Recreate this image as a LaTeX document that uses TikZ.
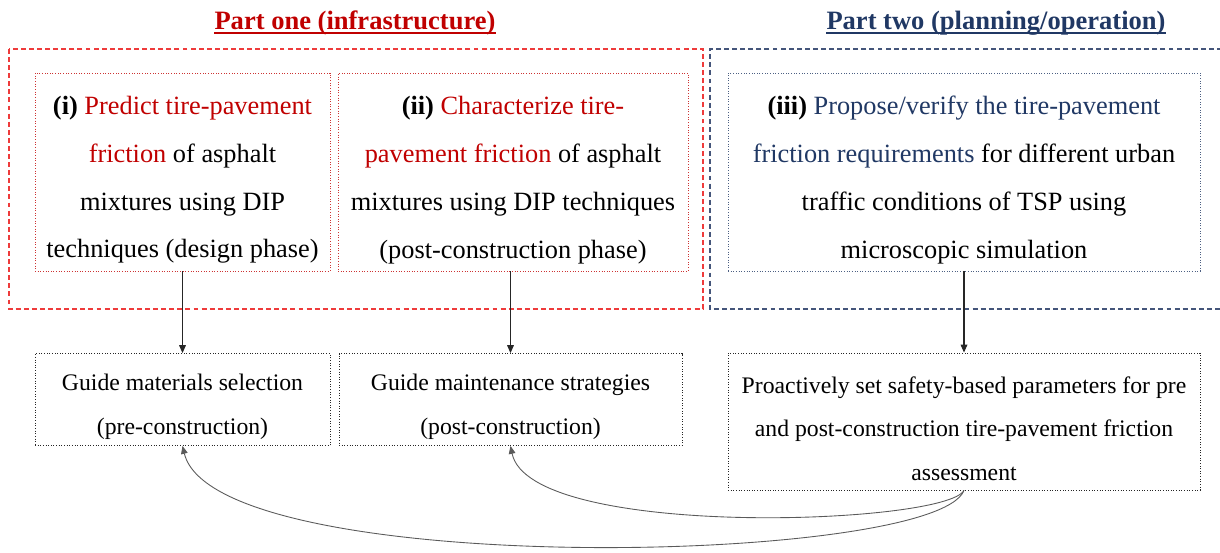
\documentclass[tikz,border=0pt]{standalone}
\usepackage{fontspec}
\setmainfont{Liberation Serif}
\usepackage{xcolor}
\usetikzlibrary{arrows.meta}
\definecolor{partOneColor}{HTML}{C00000}
\definecolor{partTwoColor}{HTML}{203864}
\definecolor{frameOneColor}{HTML}{EE3B3B}
\definecolor{frameTwoColor}{HTML}{44557A}
\definecolor{linkColor}{HTML}{5A5A5A}
% pushes the text of a box a little below its middle
\newcommand{\boxlift}{\rule{0pt}{1.3em}}

\tikzset{
  taskbox/.style={draw, densely dotted, line width=0.5pt, align=center, inner sep=0pt,
    font=\fontsize{15}{27.2}\selectfont},
  guidebox/.style={draw=black!85, densely dotted, line width=0.5pt, align=center, inner sep=0pt,
    font=\fontsize{13.5}{24.9}\selectfont},
  parttitle/.style={font=\fontsize{15.1}{18}\selectfont\bfseries, inner sep=0pt, anchor=base},
  partframe/.style={dash pattern=on 2.8pt off 1.8pt, line width=0.6pt},
  flow/.style={-{Triangle[length=4.5pt,width=3.8pt]}, line width=0.6pt, draw=black!85},
  feedback/.style={-{Triangle[length=4.5pt,width=3.8pt]}, line width=0.5pt, draw=linkColor},
}

\begin{document}
\begin{tikzpicture}[x=0.02cm, y=-0.02cm]
  \useasboundingbox (0,0) rectangle (1220,552);

  % part headings
  \node[parttitle, text=partOneColor] (h1) at (355,29) {Part one (infrastructure)};
  \node[parttitle, text=partTwoColor] (h2) at (996,29) {Part two (planning/operation)};
  \draw[partOneColor, line width=1.1pt] ([yshift=-2.4pt]h1.base west) -- ([yshift=-2.4pt]h1.base east);
  \draw[partTwoColor, line width=1.1pt] ([yshift=-2.4pt]h2.base west) -- ([yshift=-2.4pt]h2.base east);

  % dashed frames of the two parts
  \draw[partframe, draw=frameOneColor] (9,49) rectangle (703,309);
  \draw[partframe, draw=frameTwoColor] (1230,49) -- (710,49) -- (710,309) -- (1230,309);

  % research tasks
  \node[taskbox, draw=partOneColor!80, minimum width=5.9cm, minimum height=3.96cm] (t1) at (182.5,172)
    {\boxlift\textbf{(i)} \textcolor{partOneColor}{Predict tire-pavement}\\
     \textcolor{partOneColor}{friction} of asphalt\\
     mixtures using DIP\\
     techniques (design phase)};
  \node[taskbox, draw=partOneColor!80, minimum width=7cm, minimum height=3.96cm] (t2) at (513,172)
    {\boxlift\textbf{(ii)} \textcolor{partOneColor}{Characterize tire-}\\
     \textcolor{partOneColor}{pavement friction} of asphalt\\
     mixtures using DIP techniques\\
     (post-construction phase)};
  \node[taskbox, draw=partTwoColor!80, minimum width=9.44cm, minimum height=3.96cm] (t3) at (964,172)
    {\boxlift\textbf{(iii)} \textcolor{partTwoColor}{Propose/verify the tire-pavement}\\
     \textcolor{partTwoColor}{friction requirements} for different urban\\
     traffic conditions of TSP using\\
     microscopic simulation};

  % outcomes
  \node[guidebox, minimum width=5.9cm, minimum height=1.84cm] (g1) at (182.5,399.5)
    {\boxlift Guide materials selection\\ (pre-construction)};
  \node[guidebox, minimum width=6.86cm, minimum height=1.84cm] (g2) at (510.5,399.5)
    {\boxlift Guide maintenance strategies\\ (post-construction)};
  \node[guidebox, minimum width=9.44cm, minimum height=2.74cm] (g3) at (964,421.5)
    {\boxlift Proactively set safety-based parameters for pre\\
     and post-construction tire-pavement friction\\
     assessment};

  \draw[flow] (t1.south) -- (g1.north);
  \draw[flow] (t2.south -| g2.north) -- (g2.north);
  \draw[flow] (t3.south) -- (g3.north);

  % feedback from part two
  \draw[feedback] (g3.south) .. controls (935,565) and (215,580) .. (g1.south);
  \draw[feedback] (g3.south) .. controls (945,525) and (530,540) .. (g2.south);
\end{tikzpicture}
\end{document}
